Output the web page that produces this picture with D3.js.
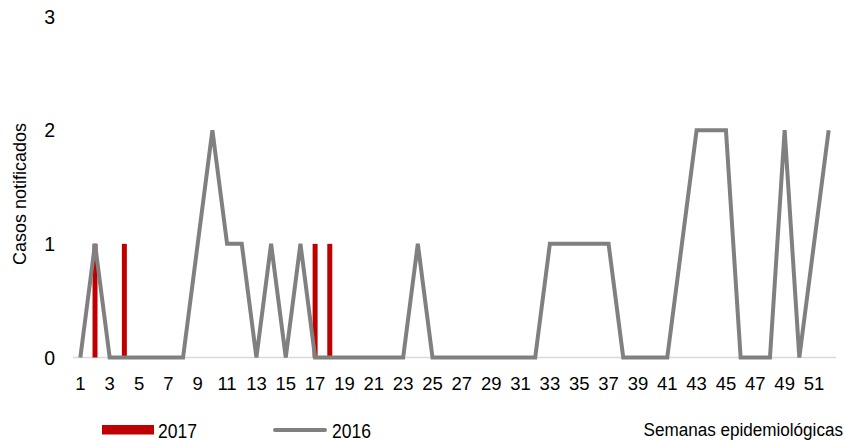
<!DOCTYPE html>
<html><head><meta charset="utf-8">
<script src="https://cdn.jsdelivr.net/npm/d3@7"></script>
<style>
body{margin:0;background:#fff;}
text{font-family:"Liberation Sans",Arial,sans-serif;fill:#000;}
</style></head>
<body><svg id="chart" width="846" height="441"></svg>
<script>
const weeks = d3.range(1, 53);
const values2016 = [0,1,0,0,0,0,0,0,1,2,1,1,0,1,0,1,0,0,0,0,0,0,0,1,0,0,0,0,0,0,0,0,1,1,1,1,1,0,0,0,0,1,2,2,2,0,0,0,2,0,1,2];
const weeks2017 = [2,4,17,18];
const values2017 = [1,1,1,1];
const yTicks = [0,1,2,3];
const xTickLabels = d3.range(1, 53, 2);

const svg = d3.select("#chart");
const x = d3.scaleBand().domain(weeks).range([73, 836]).padding(0);
const y = d3.scaleLinear().domain([0,3]).range([357.5, 16.5]);
const cx = d => x(d) + x.bandwidth()/2;

// baseline
svg.append("line").attr("x1",73).attr("x2",836).attr("y1",y(0)).attr("y2",y(0))
  .attr("stroke","#d9d9d9").attr("stroke-width",1.5);

// bars 2017
const bw = x.bandwidth()*0.34;
svg.selectAll("rect.b").data(weeks2017.map((w,i)=>({w,v:values2017[i]}))).enter()
  .append("rect").attr("class","b")
  .attr("x",d=>cx(d.w)-bw/2).attr("width",bw)
  .attr("y",d=>y(d.v)).attr("height",d=>y(0)-y(d.v))
  .attr("fill","#c00000");

// line 2016
const line = d3.line().x((d,i)=>cx(weeks[i])).y(d=>y(d));
svg.append("path").datum(values2016).attr("d",line)
  .attr("fill","none").attr("stroke","#808080").attr("stroke-width",4).attr("stroke-linejoin","miter");

// y axis labels
const yAxis = d3.axisLeft(y).tickValues(yTicks).tickFormat(d3.format("d")).tickSize(0).tickPadding(0);
const gy = svg.append("g").attr("transform","translate(55,0)").call(yAxis);
gy.select(".domain").remove();
gy.selectAll("text").attr("font-size","19.5px").attr("font-family",null).attr("fill","#000").attr("dy","0.35em");

// x axis labels
const xAxis = d3.axisBottom(x).tickValues(xTickLabels).tickSize(0).tickPadding(0);
const gx = svg.append("g").attr("transform","translate(0,377)").call(xAxis);
gx.select(".domain").remove();
gx.selectAll("text").attr("font-size","18.5px").attr("font-family",null).attr("fill","#000").attr("dy","0.71em");

// y title
svg.append("text").attr("transform","translate(26,194) rotate(-90)")
  .attr("text-anchor","middle").attr("font-size","18px").text("Casos notificados");

// legend
function sText(tx, ty, sx, size, anchor, str){
  svg.append("text").attr("transform",`translate(${tx},${ty}) scale(${sx},1)`)
    .attr("text-anchor",anchor).attr("font-size",size).text(str);
}
svg.append("rect").attr("x",102).attr("y",425).attr("width",52).attr("height",9.5).attr("fill","#c00000");
sText(158, 437.5, 0.835, "21px", "start", "2017");
svg.append("line").attr("x1",275).attr("x2",325).attr("y1",430).attr("y2",430)
  .attr("stroke","#808080").attr("stroke-width",4).attr("stroke-linecap","round");
sText(332, 437.5, 0.835, "21px", "start", "2016");
sText(843, 436, 0.9, "19px", "end", "Semanas epidemiológicas");
</script></body></html>
